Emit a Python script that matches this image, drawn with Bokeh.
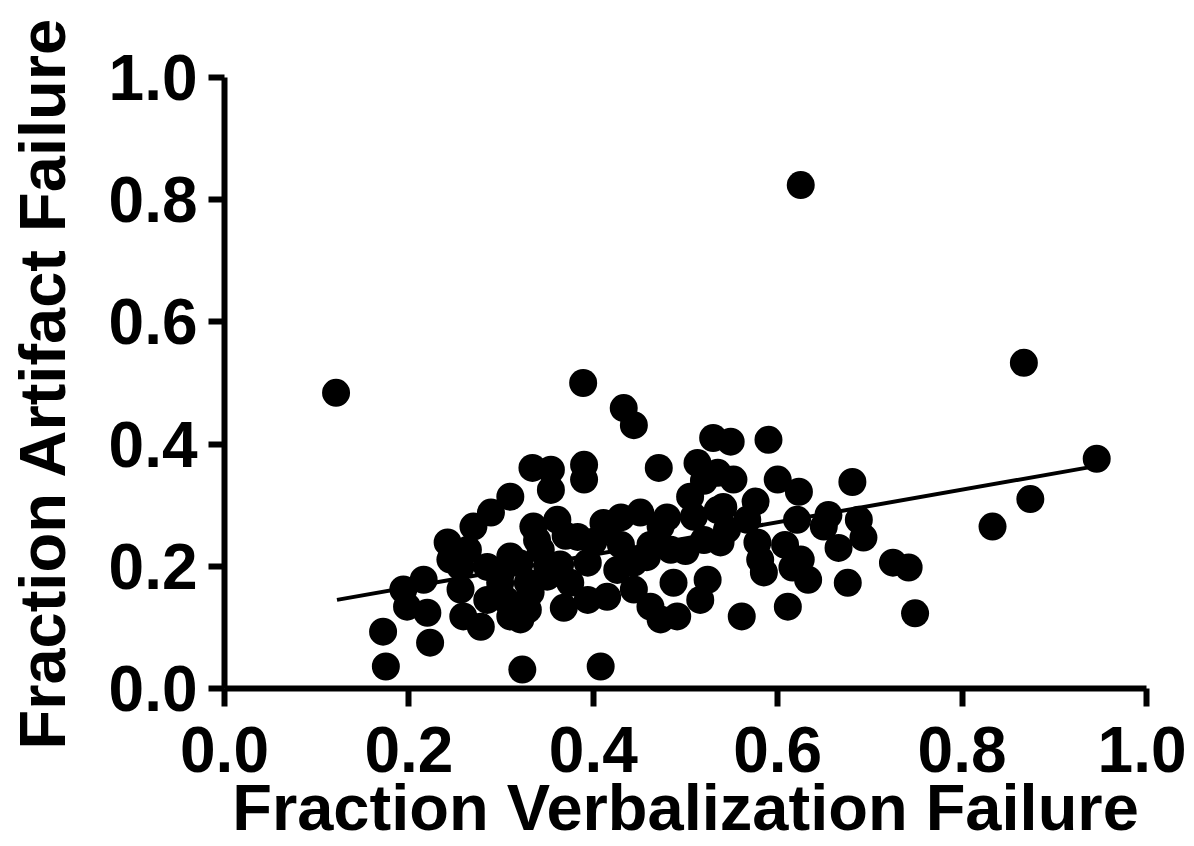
from bokeh.plotting import figure
from bokeh.models import Range1d, FixedTicker, PrintfTickFormatter
from bokeh.embed import file_html
from bokeh.resources import INLINE

# Fraction of verbalization failure (x) vs fraction of artifact failure (y)
verbal_fail = [
    0.121, 0.625, 0.867, 0.946, 0.874, 0.833, 0.749, 0.725, 0.742, 0.681,
    0.676, 0.666, 0.389, 0.433, 0.444, 0.323, 0.408, 0.368,
    0.530, 0.549, 0.590, 0.552, 0.600, 0.623, 0.576, 0.567, 0.621, 0.655,
    0.650, 0.688, 0.693, 0.608, 0.578, 0.581, 0.625, 0.541, 0.538, 0.585,
    0.616, 0.633, 0.611, 0.561,
    0.334, 0.354, 0.354, 0.390, 0.390, 0.471, 0.513, 0.505, 0.535, 0.535,
    0.520, 0.509, 0.310, 0.289, 0.270, 0.361, 0.335, 0.411, 0.451, 0.473,
    0.415, 0.339, 0.383, 0.343, 0.310, 0.285, 0.256, 0.256, 0.242, 0.264,
    0.394, 0.375, 0.426, 0.444, 0.299, 0.329, 0.394, 0.415, 0.444, 0.462,
    0.473, 0.491, 0.516, 0.524, 0.487, 0.350, 0.332, 0.310, 0.329, 0.278,
    0.259, 0.430, 0.462, 0.484, 0.364, 0.321,
    0.172, 0.175, 0.194, 0.216, 0.220, 0.223, 0.198, 0.245, 0.285,
    0.458, 0.500, 0.300, 0.320, 0.400, 0.545, 0.480, 0.430, 0.370, 0.305,
    0.350, 0.520,
]
artifact_fail = [
    0.484, 0.824, 0.533, 0.376, 0.310, 0.265, 0.123, 0.206, 0.198, 0.338,
    0.173, 0.230, 0.500, 0.459, 0.431, 0.031, 0.036, 0.132,
    0.410, 0.404, 0.407, 0.342, 0.342, 0.322, 0.306, 0.276, 0.276, 0.284,
    0.265, 0.276, 0.247, 0.235, 0.239, 0.211, 0.211, 0.297, 0.239, 0.190,
    0.198, 0.178, 0.134, 0.118,
    0.361, 0.358, 0.325, 0.366, 0.342, 0.361, 0.369, 0.314, 0.353, 0.292,
    0.243, 0.281, 0.314, 0.288, 0.265, 0.276, 0.265, 0.271, 0.288, 0.265,
    0.260, 0.243, 0.248, 0.227, 0.216, 0.199, 0.199, 0.162, 0.239, 0.227,
    0.206, 0.173, 0.194, 0.206, 0.173, 0.173, 0.145, 0.150, 0.162, 0.134,
    0.113, 0.118, 0.145, 0.178, 0.173, 0.183, 0.157, 0.118, 0.129, 0.101,
    0.118, 0.235, 0.235, 0.227, 0.203, 0.113,
    0.093, 0.036, 0.162, 0.178, 0.124, 0.075, 0.134, 0.211, 0.145,
    0.215, 0.225, 0.190, 0.205, 0.240, 0.260, 0.280, 0.280, 0.250, 0.145,
    0.200, 0.340,
]

# Linear regression line end points
fit_x = [0.122, 0.945]
fit_y = [0.145, 0.364]

tick_values = [0.0, 0.2, 0.4, 0.6, 0.8, 1.0]
x_title = "Fraction Verbalization Failure"
y_title = "Fraction Artifact Failure"

FONT = "Liberation Sans"

p = figure(width=1186, height=846, output_backend="svg", toolbar_location=None,
           x_range=Range1d(0, 1), y_range=Range1d(0, 1),
           min_border_left=224, min_border_top=77, min_border_right=40,
           min_border_bottom=157)
p.outline_line_color = None
p.xgrid.visible = False
p.ygrid.visible = False
p.background_fill_color = "white"
p.border_fill_color = "white"

p.scatter(verbal_fail, artifact_fail, size=28, marker="circle",
          fill_color="black", line_color="black", line_width=0)
p.line(fit_x, fit_y, line_color="black", line_width=4)

for ax, tl in ((p.xaxis[0], 18), (p.yaxis[0], 16)):
    ax.ticker = FixedTicker(ticks=tick_values)
    ax.formatter = PrintfTickFormatter(format="%.1f")
    ax.axis_line_width = 6
    ax.axis_line_color = "black"
    ax.major_tick_line_width = 6
    ax.major_tick_line_color = "black"
    ax.major_tick_out = tl
    ax.major_tick_in = 0
    ax.minor_tick_line_color = None
    ax.major_label_text_font = FONT
    ax.major_label_text_font_style = "bold"
    ax.major_label_text_font_size = "64px"
    ax.major_label_text_color = "black"
    ax.axis_label_text_font = FONT
    ax.axis_label_text_font_style = "bold"
    ax.axis_label_text_font_size = "65px"
    ax.axis_label_text_color = "black"

p.xaxis.axis_label = x_title
p.yaxis.axis_label = y_title
p.xaxis.major_label_standoff = 20
p.yaxis.major_label_standoff = 11
p.xaxis.axis_label_standoff = -4
p.yaxis.axis_label_standoff = 27

open("out.html", "w").write(file_html(p, INLINE))
